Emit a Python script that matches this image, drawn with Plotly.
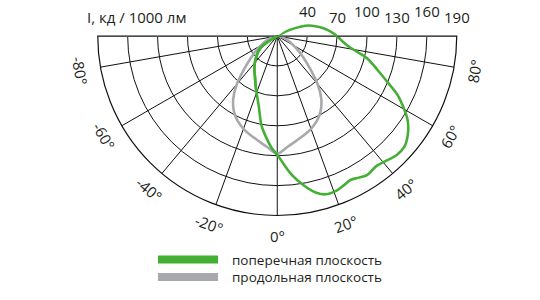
import numpy as np
import plotly.graph_objects as go

# ---------------- data ----------------
axis_title = "I, кд / 1000 лм"
series_names = ["поперечная плоскость", "продольная плоскость"]
radial_ticks = [40, 70, 100, 130, 160, 190]
angle_ticks = [-80, -60, -40, -20, 0, 20, 40, 60, 80]
r_min, r_max = 10, 190

# transverse plane (green)
green_theta = [-62, -55, -45, -35, -30, -22, -15, -10, -6, -3, 0, 3, 6, 10, 14, 17, 21,
               24, 27, 30, 33, 37, 41, 45, 49, 53, 57, 60, 64, 67, 71, 76, 81, 85, 90,
               96, 102, 108, 112, 116, 120]
green_r = [10, 30, 40, 50, 55, 67, 82, 101, 113, 122, 129, 139, 150, 162, 172, 176, 176,
           174, 172, 174, 176, 174, 176, 179, 179, 174, 166, 157, 144, 131, 117, 103, 84, 76, 70,
           62, 53, 44, 35, 24, 10]

# longitudinal plane (gray)
gray_theta = [-85, -75, -65, -55, -50, -45, -40, -35, -30, -25, -20, -15, -10, -5, 0,
              5, 10, 15, 20, 25, 30, 35, 40, 45, 50, 55, 65, 75, 85]
gray_r = [10, 17, 24, 36, 45, 57, 73, 87, 97, 104, 109, 113, 117, 122, 128,
          122, 117, 113, 109, 104, 97, 87, 73, 57, 45, 36, 24, 17, 10]

# ---------------- layout geometry (pixels) ----------------
W, H = 540, 300
CX, CY, R = 277.25, 36.0, 179.5
R2 = 60.0
EXTRA = 35  # degrees above horizon for overflow subplot
GREEN = "#43b034"
GRAY = "#a7a9ac"
FRAME = "#8a8a8a"
TXT = "#231f20"
FONT = "Open Sans"

fig = go.Figure()

# frame diameter (top line)
fig.add_trace(go.Scatterpolar(r=[r_max, r_min, r_max], theta=[-90, 0, 90], mode="lines",
                              line=dict(color=FRAME, width=2), subplot="polar",
                              showlegend=False, hoverinfo="skip"))
fig.add_trace(go.Scatterpolar(r=gray_r, theta=gray_theta, mode="lines", name=series_names[1],
                              line=dict(color=GRAY, width=2.6, shape="spline", smoothing=1),
                              subplot="polar", showlegend=False))
fig.add_trace(go.Scatterpolar(r=green_r, theta=green_theta, mode="lines", name=series_names[0],
                              line=dict(color=GREEN, width=2.6, shape="spline", smoothing=1),
                              subplot="polar", showlegend=False))
# same green curve on an invisible overlay subplot so the part above the horizon shows
fig.add_trace(go.Scatterpolar(r=green_r, theta=green_theta, mode="lines", name=series_names[0],
                              line=dict(color=GREEN, width=2.6, shape="spline", smoothing=1),
                              subplot="polar2", showlegend=False))

fig.update_layout(
    width=W, height=H,
    margin=dict(l=0, r=0, t=0, b=0),
    paper_bgcolor="white", plot_bgcolor="white",
    font=dict(family=FONT, color=TXT, size=15),
    polar=dict(
        domain=dict(x=[(CX - R) / W, (CX + R) / W], y=[1 - (CY + R) / H, 1 - CY / H]),
        sector=[180, 360],
        bgcolor="rgba(0,0,0,0)",
        angularaxis=dict(rotation=270, direction="counterclockwise", tickmode="array",
                         tickvals=[a + 360 for a in angle_ticks],
                         showticklabels=False, ticks="",
                         showgrid=True, gridcolor="#111", gridwidth=1,
                         showline=True, linecolor="#111", linewidth=1.2),
        radialaxis=dict(range=[r_min, r_max], tickmode="array", tickvals=radial_ticks,
                        showticklabels=False, ticks="", showline=False,
                        showgrid=True, gridcolor="#111", gridwidth=1),
    ),
    polar2=dict(
        domain=dict(x=[(CX - R2) / W, (CX + R2) / W],
                    y=[1 - (CY + R2) / H, 1 - (CY - R2 * np.sin(np.radians(EXTRA))) / H]),
        sector=[180 - EXTRA, 360 + EXTRA],
        bgcolor="rgba(0,0,0,0)",
        angularaxis=dict(rotation=270, direction="counterclockwise", visible=False),
        radialaxis=dict(range=[r_min, r_min + R2 * (r_max - r_min) / R], visible=False),
    ),
)

ann = []
# axis title
ann.append(dict(text=axis_title, x=136 / W, y=1 - 17 / H, xref="paper", yref="paper",
                showarrow=False, xanchor="center", yanchor="middle", font=dict(size=15)))
# radial tick labels (staggered)
for i, v in enumerate(radial_ticks):
    px = CX + (v - r_min) * R / (r_max - r_min)
    py = 11 if i % 2 == 0 else 17
    ann.append(dict(text=str(v), x=px / W, y=1 - py / H, xref="paper", yref="paper",
                    showarrow=False, xanchor="center", yanchor="middle", font=dict(size=15)))
# angular tick labels
LR = 200
for a in angle_ticks:
    t = np.radians(a)
    px = CX + LR * np.sin(t)
    py = CY + LR * np.cos(t)
    ann.append(dict(text=f"{a}°", x=px / W, y=1 - py / H, xref="paper", yref="paper",
                    showarrow=False, xanchor="center", yanchor="middle", textangle=-a,
                    font=dict(size=15)))
# legend
shapes = []
for i, (name, col) in enumerate(zip(series_names, [GREEN, GRAY])):
    yc = 259.5 + i * 17.5
    shapes.append(dict(type="rect", xref="paper", yref="paper", x0=158 / W, x1=218 / W,
                       y0=1 - (yc - 4) / H, y1=1 - (yc + 4) / H, fillcolor=col,
                       line=dict(width=0)))
    ann.append(dict(text=name, x=230 / W, y=1 - yc / H, xref="paper", yref="paper",
                    showarrow=False, xanchor="left", yanchor="middle", font=dict(size=13.5)))

fig.update_layout(annotations=ann, shapes=shapes)
fig.write_html("out.html")
